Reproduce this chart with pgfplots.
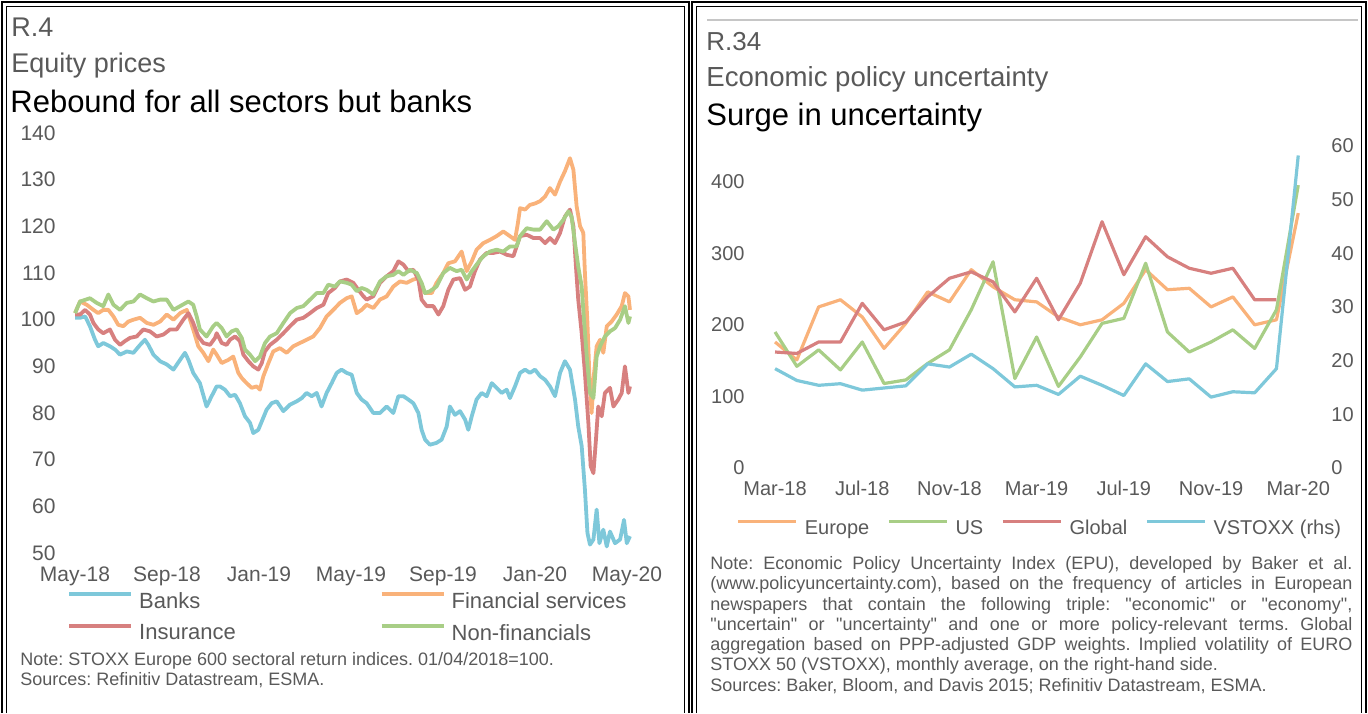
\documentclass[border=0pt]{standalone}
\usepackage{pgfplots}
\pgfplotsset{compat=1.18}
\usepackage{fontspec}
\setmainfont{Liberation Sans}
\definecolor{cBank}{HTML}{7EC8DA}
\definecolor{cFin}{HTML}{F9B27A}
\definecolor{cIns}{HTML}{D7807F}
\definecolor{cNon}{HTML}{A8CE86}
\definecolor{txt}{HTML}{595959}
\frenchspacing
\newcommand{\q}{\textquotedbl}
\begin{document}
\begin{tikzpicture}[x=0.5pt,y=0.5pt]
\useasboundingbox (0,0) rectangle (1368,713);
% panel frames
\draw[line width=0.8pt] (2,0) -- (2,711) -- (689,711) -- (689,0);
\draw[line width=0.8pt] (6.5,0) -- (6.5,706.5) -- (684.5,706.5) -- (684.5,0);
\draw[line width=0.8pt] (692,0) -- (692,711) -- (1366,711) -- (1366,0);
\draw[line width=0.8pt] (696.5,0) -- (696.5,706.5) -- (1361.5,706.5) -- (1361.5,0);
\draw[gray!45, line width=0.6pt] (707,693) -- (1358,693);
% titles left
\node[anchor=base west, inner sep=0pt, text=txt, font=\fontsize{13.5}{16}\selectfont] at (11,676) {R.4};
\node[anchor=base west, inner sep=0pt, text=txt, font=\fontsize{13.5}{16}\selectfont] at (11,640) {Equity prices};
\node[anchor=base west, inner sep=0pt, text=black, font=\fontsize{15.5}{18}\selectfont] at (10,600) {Rebound for all sectors but banks};
% titles right
\node[anchor=base west, inner sep=0pt, text=txt, font=\fontsize{13}{16}\selectfont] at (706,662) {R.34};
\node[anchor=base west, inner sep=0pt, text=txt, font=\fontsize{13.8}{16}\selectfont] at (706,626) {Economic policy uncertainty};
\node[anchor=base west, inner sep=0pt, text=black, font=\fontsize{15.5}{18}\selectfont] at (706,587) {Surge in uncertainty};

% ---------------- left chart ----------------
\begin{axis}[
  at={(31.75pt,80pt)}, anchor=south west,
  scale only axis, width=293.25pt, height=210pt,
  xmin=-0.5, xmax=25, ymin=50, ymax=140,
  axis line style={draw=none}, major tick length=0pt,
  xtick={0,4,...,24},
  xticklabels={May-18,Sep-18,Jan-19,May-19,Sep-19,Jan-20,May-20},
  ytick={50,60,...,140},
  /pgf/number format/assume math mode=true,
  ticklabel style={font=\fontsize{10.5}{12}\selectfont, text=txt},
  yticklabel style={inner sep=0pt, anchor=east, xshift=-3.75pt},
  xticklabel style={inner sep=0pt, anchor=base, yshift=-14pt},
  legend columns=2, legend cell align=left,
  legend style={draw=none, fill=none, inner sep=0pt, at={(0.006,-0.0929)}, anchor=north west,
    font=\fontsize{11}{13}\selectfont, text=txt, nodes={inner sep=0pt}, row sep=6.5pt,
    /tikz/every odd column/.append style={column sep=3pt},
    /tikz/every even column/.append style={column sep=72pt}},
  legend image code/.code={\draw[#1] (0pt,3.8pt) -- (31pt,3.8pt);},
  every axis plot/.append style={line width=1.9pt, line join=round},
]
\addplot[cBank] coordinates {(0,100.4)(0.22,100.4)(0.44,100.7)(0.65,98.6)(0.87,95.7)(1.01,94.3)(1.23,95.0)(1.52,94.3)(1.74,93.6)(1.96,92.5)(2.25,93.2)(2.54,92.9)(2.83,94.6)(3.04,95.7)(3.19,94.6)(3.41,92.5)(3.70,91.1)(3.99,90.4)(4.28,89.3)(4.57,91.4)(4.78,92.9)(4.93,91.4)(5.14,88.6)(5.43,86.4)(5.72,81.4)(5.94,83.6)(6.16,85.7)(6.30,85.7)(6.52,85.0)(6.74,83.6)(6.96,83.9)(7.17,82.1)(7.39,79.3)(7.61,77.9)(7.75,75.7)(7.97,76.4)(8.12,78.2)(8.33,80.7)(8.55,82.1)(8.77,82.5)(9.06,80.4)(9.35,81.8)(9.64,82.5)(9.86,83.2)(10.07,84.3)(10.29,83.6)(10.51,84.3)(10.72,81.4)(10.94,84.3)(11.16,86.4)(11.38,88.6)(11.59,89.3)(11.81,88.6)(12.03,88.2)(12.25,84.3)(12.46,82.9)(12.68,82.1)(12.97,80.0)(13.26,80.0)(13.55,81.4)(13.84,80.0)(14.06,83.6)(14.28,83.6)(14.49,82.9)(14.71,82.1)(14.93,80.0)(15.07,76.4)(15.22,74.3)(15.43,73.2)(15.72,73.6)(15.94,74.3)(16.16,77.1)(16.30,81.4)(16.52,79.6)(16.74,80.4)(16.96,78.6)(17.10,76.4)(17.25,79.3)(17.46,82.9)(17.68,84.3)(17.90,83.6)(18.12,86.4)(18.33,85.4)(18.55,84.3)(18.77,85.0)(18.91,83.2)(19.13,85.7)(19.35,88.6)(19.57,89.3)(19.78,88.6)(20.00,89.3)(20.22,87.9)(20.44,87.1)(20.65,85.7)(20.87,83.6)(21.09,88.6)(21.30,91.1)(21.52,89.3)(21.74,82.9)(21.88,77.1)(22.03,72.9)(22.17,63.6)(22.28,54.3)(22.39,51.8)(22.54,52.9)(22.68,59.3)(22.80,52.1)(22.97,55.0)(23.12,51.4)(23.26,54.6)(23.48,52.1)(23.70,52.9)(23.87,57.1)(23.99,52.1)(24.13,53.6)};
\addlegendentry{Banks}
\addplot[cFin] coordinates {(0,101.4)(0.22,103.9)(0.51,103.2)(0.80,102.1)(1.01,101.4)(1.23,102.1)(1.45,102.1)(1.67,100.7)(1.88,98.9)(2.10,98.6)(2.32,99.6)(2.54,100.0)(2.83,100.4)(3.12,99.3)(3.41,98.9)(3.70,99.6)(3.99,101.1)(4.28,100.0)(4.57,101.4)(4.86,102.1)(5.14,97.9)(5.36,94.3)(5.58,92.9)(5.80,91.1)(6.01,93.6)(6.16,92.5)(6.38,90.7)(6.67,91.4)(6.88,92.1)(7.10,88.6)(7.25,87.5)(7.46,86.4)(7.68,85.4)(7.90,85.7)(8.04,85.0)(8.19,87.9)(8.41,90.7)(8.62,93.2)(8.91,93.9)(9.20,92.9)(9.49,94.3)(9.78,95.0)(10.07,95.7)(10.36,96.4)(10.65,98.2)(10.94,100.7)(11.23,102.1)(11.52,103.6)(11.81,104.6)(12.03,105.0)(12.25,101.4)(12.46,102.1)(12.68,103.2)(12.97,102.5)(13.26,104.3)(13.55,105.0)(13.84,107.1)(14.13,108.2)(14.42,107.9)(14.71,108.6)(14.93,108.9)(15.07,106.8)(15.22,105.7)(15.51,105.7)(15.72,107.9)(16.01,110.0)(16.23,112.1)(16.52,112.5)(16.81,114.6)(17.03,110.4)(17.25,112.5)(17.46,115.0)(17.75,116.4)(18.04,117.1)(18.33,117.9)(18.62,118.9)(18.91,117.9)(19.13,117.1)(19.25,120.5)(19.35,123.9)(19.57,123.6)(19.78,124.6)(20.00,124.9)(20.22,125.4)(20.44,126.4)(20.65,128.2)(20.87,126.8)(21.09,129.6)(21.30,131.8)(21.52,134.6)(21.67,132.1)(21.81,124.3)(21.96,120.0)(22.10,118.6)(22.17,110.0)(22.28,99.3)(22.36,88.6)(22.46,80.0)(22.57,88.6)(22.68,94.3)(22.83,95.7)(22.97,92.9)(23.12,98.6)(23.33,99.6)(23.55,101.1)(23.77,102.9)(23.91,105.7)(24.06,105.0)(24.13,102.1)};
\addlegendentry{Financial services}
\addplot[cIns] coordinates {(0,101.1)(0.22,101.1)(0.44,102.1)(0.65,101.1)(0.80,99.3)(1.01,97.9)(1.23,97.1)(1.52,97.9)(1.74,95.7)(1.96,94.6)(2.17,95.4)(2.39,96.1)(2.68,96.4)(2.97,97.9)(3.26,97.5)(3.55,96.4)(3.84,96.8)(4.13,97.9)(4.42,97.9)(4.71,100.0)(4.93,101.4)(5.14,99.3)(5.36,96.4)(5.58,95.0)(5.87,94.6)(6.09,96.1)(6.16,97.1)(6.38,95.0)(6.59,94.6)(6.74,95.7)(6.96,96.4)(7.17,95.4)(7.32,92.5)(7.54,91.1)(7.75,90.0)(7.97,89.3)(8.12,90.7)(8.26,93.2)(8.48,94.6)(8.77,95.7)(9.06,97.1)(9.35,98.6)(9.64,100.0)(9.93,100.4)(10.22,101.4)(10.51,102.5)(10.80,103.2)(11.01,105.7)(11.30,106.8)(11.52,108.2)(11.81,108.6)(12.10,107.9)(12.32,106.4)(12.54,105.0)(12.68,104.3)(12.97,105.0)(13.26,107.9)(13.55,109.3)(13.84,110.4)(14.06,112.5)(14.28,111.8)(14.49,110.4)(14.71,110.7)(14.93,108.6)(15.07,104.3)(15.29,102.9)(15.58,102.9)(15.80,101.1)(16.01,102.9)(16.23,106.4)(16.45,108.6)(16.74,108.9)(16.96,106.4)(17.17,107.1)(17.39,110.4)(17.61,112.9)(17.90,114.3)(18.19,114.3)(18.48,114.6)(18.77,113.9)(19.06,113.6)(19.35,117.9)(19.64,118.2)(19.93,117.5)(20.22,117.5)(20.44,116.4)(20.65,117.5)(20.87,116.4)(21.09,118.6)(21.30,122.1)(21.52,123.6)(21.67,120.0)(21.78,111.4)(21.88,104.3)(22.03,97.1)(22.17,88.6)(22.32,77.9)(22.42,68.6)(22.54,67.1)(22.65,74.3)(22.75,81.4)(22.90,79.3)(23.04,84.3)(23.26,85.4)(23.41,81.4)(23.62,82.9)(23.77,84.3)(23.91,90.0)(24.06,84.3)(24.13,85.7)};
\addlegendentry{Insurance}
\addplot[cNon] coordinates {(0,101.4)(0.22,103.9)(0.65,104.6)(0.94,103.6)(1.23,102.9)(1.45,105.4)(1.67,103.2)(1.96,102.1)(2.25,103.6)(2.54,103.9)(2.83,105.4)(3.12,104.6)(3.41,103.9)(3.70,104.3)(3.99,104.3)(4.28,102.1)(4.57,102.9)(4.93,103.9)(5.14,103.2)(5.29,100.7)(5.43,97.9)(5.72,96.4)(6.01,98.6)(6.16,99.3)(6.38,98.2)(6.59,96.4)(6.81,97.5)(7.03,97.9)(7.25,96.1)(7.39,93.6)(7.61,92.5)(7.83,91.1)(8.04,92.1)(8.26,95.0)(8.48,96.4)(8.77,97.1)(9.06,99.3)(9.35,101.4)(9.64,102.5)(9.93,102.9)(10.22,104.3)(10.51,105.7)(10.80,105.7)(11.01,107.5)(11.30,107.1)(11.52,108.2)(11.81,107.9)(12.03,107.5)(12.25,106.1)(12.46,106.8)(12.68,106.4)(12.97,105.4)(13.26,108.2)(13.55,109.3)(13.84,109.6)(14.06,110.4)(14.28,109.6)(14.57,110.7)(14.86,110.0)(15.07,107.9)(15.22,105.7)(15.43,106.1)(15.72,107.1)(16.01,110.0)(16.30,111.1)(16.59,110.4)(16.81,110.7)(17.03,108.6)(17.25,110.4)(17.46,111.8)(17.75,113.6)(18.04,114.6)(18.33,115.0)(18.62,114.6)(18.91,115.7)(19.20,115.7)(19.35,117.9)(19.64,119.6)(19.93,119.3)(20.22,119.3)(20.51,121.1)(20.80,119.3)(21.01,120.0)(21.23,121.4)(21.45,123.2)(21.59,122.1)(21.74,116.4)(21.88,111.4)(22.03,107.1)(22.13,100.0)(22.25,92.1)(22.39,84.3)(22.54,83.2)(22.68,92.1)(22.83,94.3)(23.04,96.4)(23.26,97.5)(23.48,98.2)(23.70,100.0)(23.91,102.9)(24.06,99.3)(24.13,100.7)};
\addlegendentry{Non-financials}
\end{axis}

% ---------------- right chart ----------------
\begin{axis}[
  at={(378.8pt,122.5pt)}, anchor=south west,
  scale only axis, width=281.22pt, height=161.1pt,
  xmin=-0.8, xmax=25, ymin=0, ymax=450,
  axis line style={draw=none}, major tick length=0pt,
  xtick={0,4,...,24},
  xticklabels={Mar-18,Jul-18,Nov-18,Mar-19,Jul-19,Nov-19,Mar-20},
  ytick={0,100,...,400},
  /pgf/number format/assume math mode=true,
  ticklabel style={font=\fontsize{10}{12}\selectfont, text=txt},
  yticklabel style={inner sep=0pt, anchor=east, xshift=-6.3pt},
  xticklabel style={inner sep=0pt, anchor=base, yshift=-13.5pt},
  legend columns=4,
  legend style={draw=none, fill=none, inner sep=0pt, at={(-0.038,-0.161)}, anchor=north west,
    font=\fontsize{10}{12}\selectfont, text=txt, nodes={inner sep=0pt},
    /tikz/every odd column/.append style={column sep=3.5pt},
    /tikz/every even column/.append style={column sep=9pt}},
  legend image code/.code={\draw[#1] (0pt,3.6pt) -- (29pt,3.6pt);},
  every axis plot/.append style={line width=1.6pt, line join=round},
]
\addplot[cFin] coordinates {(0,176)(1,151)(2,225)(3,235)(4,211)(5,167)(6,202)(7,246)(8,232)(9,277)(10,253)(11,235)(12,232)(13,211)(14,200)(15,207)(16,230)(17,277)(18,249)(19,251)(20,225)(21,239)(22,200)(23,207)(24,356)};
\addlegendentry{Europe}
\addplot[cNon] coordinates {(0,190)(1,142)(2,165)(3,137)(4,176)(5,118)(6,123)(7,146)(8,165)(9,221)(10,288)(11,125)(12,183)(13,114)(14,155)(15,202)(16,209)(17,286)(18,190)(19,162)(20,176)(21,193)(22,167)(23,221)(24,395)};
\addlegendentry{US}
\addplot[cIns] coordinates {(0,162)(1,160)(2,176)(3,176)(4,230)(5,193)(6,204)(7,239)(8,265)(9,274)(10,260)(11,218)(12,265)(13,207)(14,258)(15,344)(16,270)(17,323)(18,295)(19,279)(20,272)(21,279)(22,235)(23,235)};
\addlegendentry{Global}
\addlegendimage{cBank, line width=1.6pt}
\addlegendentry{VSTOXX (rhs)}
\end{axis}
\begin{axis}[
  at={(378.8pt,122.5pt)}, anchor=south west,
  scale only axis, width=281.22pt, height=161.1pt,
  xmin=-0.8, xmax=25, ymin=0, ymax=60,
  axis x line=none, axis y line*=right,
  axis line style={draw=none}, major tick length=0pt,
  ytick={0,10,...,60},
  /pgf/number format/assume math mode=true,
  ticklabel style={font=\fontsize{10}{12}\selectfont, text=txt},
  yticklabel style={inner sep=0pt, anchor=west, xshift=5.5pt},
]
\addplot[cBank, line width=1.6pt, line join=round] coordinates {(0,18.5)(1,16.3)(2,15.4)(3,15.7)(4,14.5)(5,14.9)(6,15.3)(7,19.4)(8,18.8)(9,21.2)(10,18.5)(11,15.1)(12,15.4)(13,13.7)(14,17.1)(15,15.4)(16,13.5)(17,19.4)(18,16.1)(19,16.6)(20,13.2)(21,14.2)(22,14.0)(23,18.5)(24,58.2)};
\end{axis}

% notes left
\node[anchor=base west, inner sep=0pt, text=txt, font=\fontsize{9}{10}\selectfont] at (20,48) {Note: STOXX Europe 600 sectoral return indices. 01/04/2018=100.};
\node[anchor=base west, inner sep=0pt, text=txt, font=\fontsize{9}{10}\selectfont] at (20,28) {Sources: Refinitiv Datastream, ESMA.};
% notes right
\begin{scope}[every node/.style={anchor=base west, inner sep=0pt, text=txt, font=\fontsize{9}{10}\selectfont}]
\node at (710,144) {\makebox[321pt][s]{Note: Economic Policy Uncertainty Index (EPU), developed by Baker et al.}};
\node at (710,124) {\makebox[321pt][s]{(www.policyuncertainty.com), based on the frequency of articles in European}};
\node at (710,103) {\makebox[321pt][s]{newspapers that contain the following triple: \q economic\q{} or \q economy\q ,}};
\node at (710,83) {\makebox[321pt][s]{\q uncertain\q{} or \q uncertainty\q{} and one or more policy-relevant terms. Global}};
\node at (710,63) {\makebox[321pt][s]{aggregation based on PPP-adjusted GDP weights. Implied volatility of EURO}};
\node at (710,43) {STOXX 50 (VSTOXX), monthly average, on the right-hand side.};
\node at (710,22) {Sources: Baker, Bloom, and Davis 2015; Refinitiv Datastream, ESMA.};
\end{scope}
\end{tikzpicture}
\end{document}
